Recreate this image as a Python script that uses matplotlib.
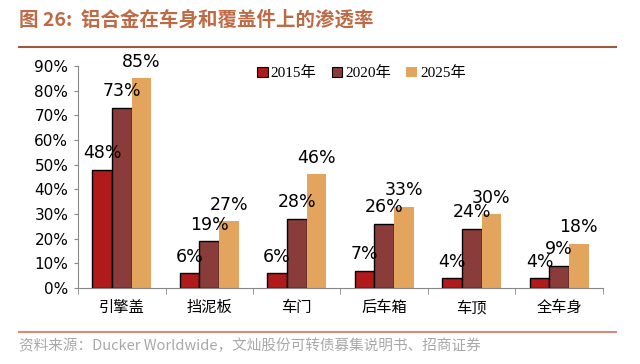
import numpy as np
import matplotlib.pyplot as plt
from matplotlib.lines import Line2D

plt.rcParams['font.family'] = ['Noto Sans CJK SC', 'DejaVu Sans']

# 数据
categories = ['引擎盖', '挡泥板', '车门', '后车箱', '车顶', '全车身']
years = ['2015年', '2020年', '2025年']
v2015 = [48, 6, 6, 7, 4, 4]
v2020 = [73, 19, 28, 26, 24, 9]
v2025 = [85, 27, 46, 33, 30, 18]
yticks = [0, 10, 20, 30, 40, 50, 60, 70, 80, 90]

colors = ['#B01A1A', '#8A3C3A', '#E3A45E']
edges = ['black', 'black', 'none']

fig = plt.figure(figsize=(6.4, 3.64), dpi=100)
ax = fig.add_axes([0.122, 0.209, 0.82, 0.61])

x = np.arange(len(categories))
w = 0.225
series = [v2015, v2020, v2025]
for i, vals in enumerate(series):
    pos = x + (i - 1) * w
    ax.bar(pos, vals, width=w, color=colors[i], edgecolor=edges[i],
           linewidth=1.0, label=years[i], zorder=2)
    for p, v in zip(pos, vals):
        ax.text(p, v + 3.0, f'{v}%', ha='center', va='bottom',
                fontsize=12.5, family='DejaVu Sans', zorder=3, clip_on=False)

ax.set_xlim(-0.5, len(categories) - 0.5)
ax.set_ylim(0, 90)
ax.set_yticks(yticks)
ax.set_yticklabels([f'{t}%' for t in yticks], fontsize=11, family='DejaVu Sans')
ax.set_xticks(x)
ax.set_xticklabels(categories, fontsize=11)
ax.tick_params(axis='x', length=0, pad=8)
ax.set_xticks(np.arange(-0.5, len(categories)), minor=True)
ax.tick_params(axis='x', which='minor', length=4, color='#888888', direction='out')
ax.tick_params(axis='y', length=3, color='#888888', pad=4)

for s in ['top', 'right']:
    ax.spines[s].set_visible(False)
ax.spines['left'].set_color('#888888')
ax.spines['bottom'].set_color('#888888')

handles = [plt.Rectangle((0, 0), 1, 1, facecolor=colors[i], edgecolor=edges[i], linewidth=0.8)
           for i in range(3)]
leg = ax.legend(handles, years, loc='upper center', bbox_to_anchor=(0.54, 1.06),
                ncol=3, frameon=False, handlelength=0.7, handleheight=0.7,
                handletextpad=0.2, columnspacing=1.0,
                prop={'family': ['Liberation Serif', 'Noto Sans CJK SC'], 'size': 11})

# 标题与来源
fig.text(0.03, 0.945, '图 26:  铝合金在车身和覆盖件上的渗透率', fontsize=14,
         fontweight='bold', color='#BD6A45', va='center')
fig.add_artist(Line2D([0.03, 0.962], [0.872, 0.872], color='#9A5B3E', linewidth=1.5))
fig.add_artist(Line2D([0.03, 0.962], [0.088, 0.088], color='#D98A78', linewidth=1.5))
fig.text(0.03, 0.05, '资料来源：Ducker Worldwide，文灿股份可转债募集说明书、招商证券',
         fontsize=10.5, color='#A8A8A8', va='center')

fig.savefig('out.png', dpi=100)
